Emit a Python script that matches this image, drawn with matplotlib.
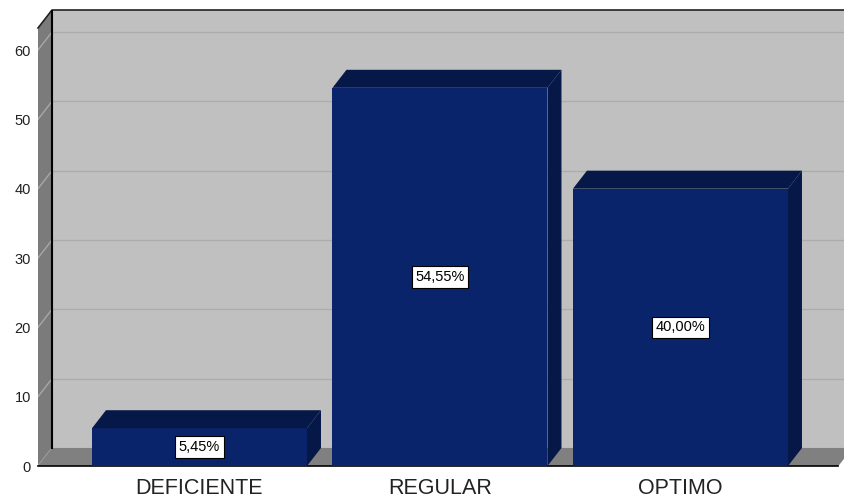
import matplotlib.pyplot as plt
from matplotlib.patches import Polygon, Rectangle

categories = ['DEFICIENTE', 'REGULAR', 'OPTIMO']
percents = [5.45, 54.55, 40.00]
bar_labels = ['5,45%', '54,55%', '40,00%']
yticks = [0, 10, 20, 30, 40, 50, 60]

plt.rcParams['font.family'] = ['Liberation Sans', 'DejaVu Sans']

W, H = 844, 501
fig = plt.figure(figsize=(W / 100, H / 100), dpi=100)
fig.patch.set_facecolor('white')
ax = fig.add_axes([38 / W, 35 / H, (W - 38) / W, 456 / H])

xl, xr = -0.6715, 2.68
ymax = 65.77
ax.set_xlim(xl, xr)
ax.set_ylim(0, ymax)

# depth offset of the 3d look (pixels -> data units)
dx = 14 / ((W - 38) / (xr - xl))
dy = 18 / (456 / ymax)

wall = '#c0c0c0'
side = '#7b7b7b'
floor = '#808080'
front = '#0a246b'
dark = '#061848'

# back wall
ax.add_patch(Rectangle((xl + dx, dy), xr - xl, ymax - dy, facecolor=wall,
                       edgecolor='none', zorder=0))
for v in yticks:
    ax.plot([xl + dx, xr], [v + dy, v + dy], color='#acacac', lw=1, zorder=1)
# left side wall
ax.add_patch(Polygon([(xl, 0), (xl + dx, dy), (xl + dx, ymax), (xl, ymax - dy)],
                     facecolor=side, edgecolor='none', zorder=1))
for v in yticks:
    ax.plot([xl, xl + dx], [v, v + dy], color='#a8a8a8', lw=1, zorder=2)
ax.plot([xl, xl + dx, xr], [ymax - dy, ymax, ymax], color='#222222', lw=1.2,
        zorder=3, clip_on=False)
ax.plot([xl + dx, xl + dx], [dy, ymax], color='black', lw=1.5, zorder=3)
# floor
fr = xr - 0.4 * dx
ax.add_patch(Polygon([(xl, 0), (fr, 0), (fr + dx, dy), (xl + dx, dy)],
                     facecolor=floor, edgecolor='none', zorder=2))
ax.plot([xl, fr], [0, 0], color='black', lw=1.2, zorder=3, clip_on=False)

# bars
bw = 0.894
for i, v in enumerate(percents):
    x0, x1 = i - bw / 2, i + bw / 2
    ax.bar(i, v, width=bw, color=front, edgecolor='none', zorder=5)
    ax.add_patch(Polygon([(x0, v), (x1, v), (x1 + dx, v + dy), (x0 + dx, v + dy)],
                         facecolor=dark, edgecolor='none', zorder=5))
    ax.add_patch(Polygon([(x1, 0), (x1 + dx, dy), (x1 + dx, v + dy), (x1, v)],
                         facecolor=dark, edgecolor='none', zorder=5))
    ax.text(i, v / 2, bar_labels[i], ha='center', va='center', fontsize=10.5,
            color='black', zorder=6,
            bbox=dict(boxstyle='square,pad=0.25', facecolor='white',
                      edgecolor='black', lw=0.8))

ax.set_xticks(range(len(categories)))
ax.set_xticklabels(categories, fontsize=15.5, color='#222222')
ax.set_yticks(yticks)
ax.set_yticklabels([str(t) for t in yticks], fontsize=10.5, color='#222222')
ax.tick_params(axis='x', length=0, pad=9)
ax.tick_params(axis='y', length=0, pad=5)
for s in ax.spines.values():
    s.set_visible(False)

fig.savefig('out.png', dpi=100)
